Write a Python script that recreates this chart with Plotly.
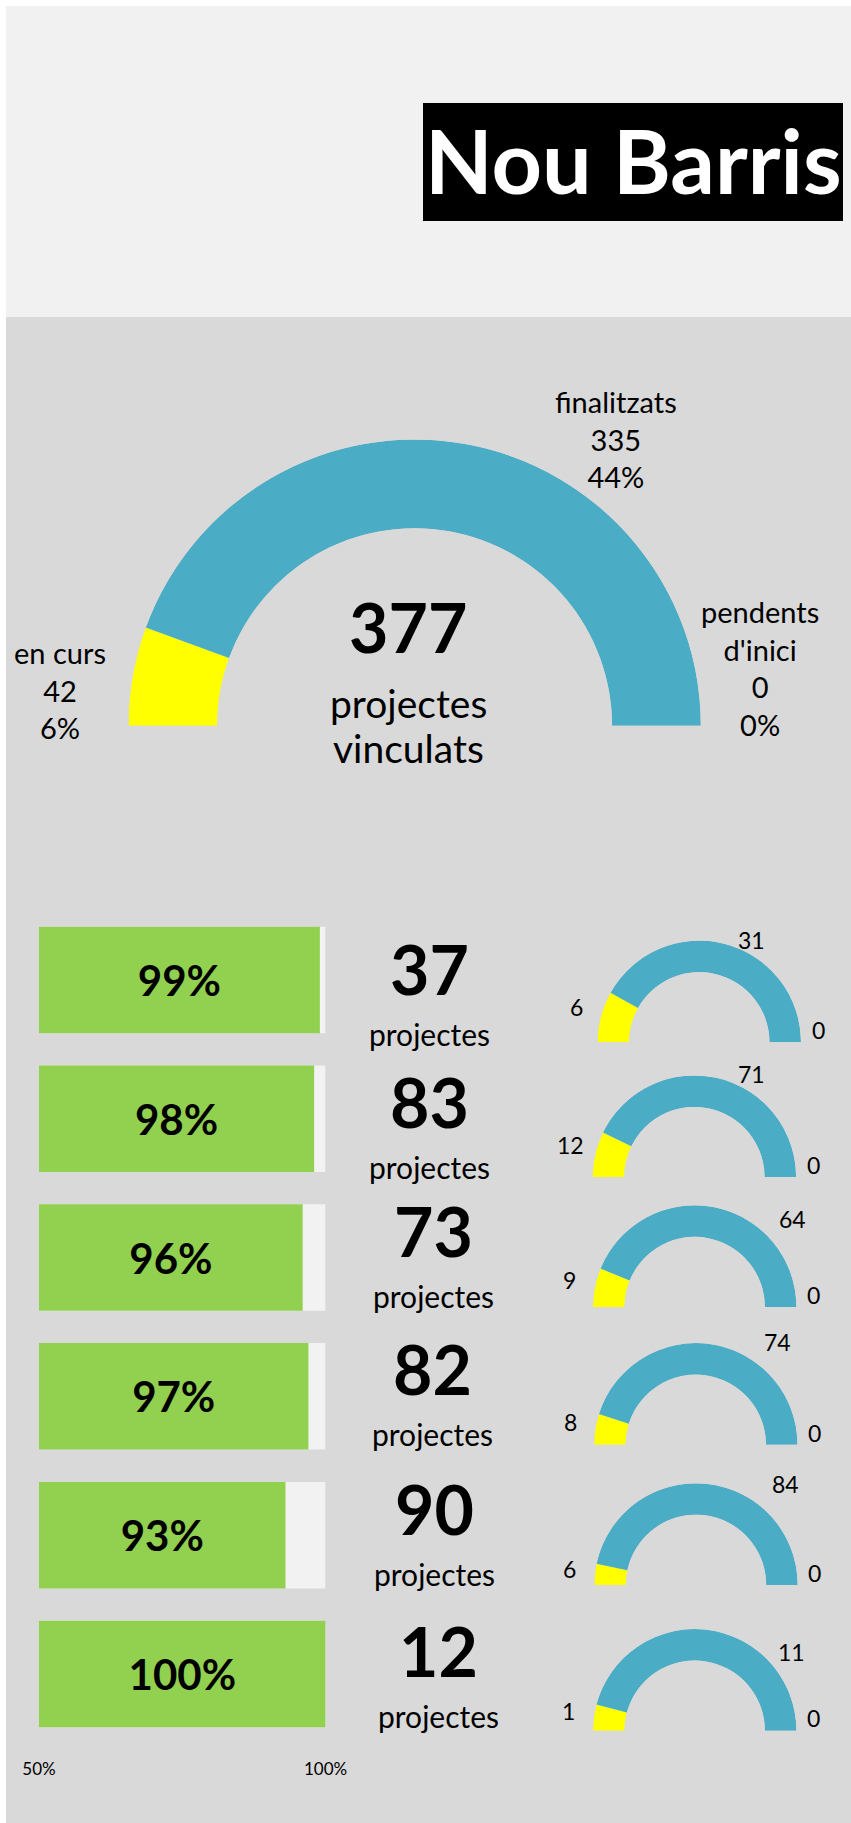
import math
import plotly.graph_objects as go

W, H = 851, 1823

# ---- data -------------------------------------------------------------
district = "Nou Barris"

status_labels = ["en curs", "finalitzats", "pendents<br>d'inici"]
status_totals = [42, 335, 0]

row_rates = [99, 98, 96, 97, 93, 100]          # % shown on each green bar
row_en_curs = [6, 12, 9, 8, 6, 1]
row_finalitzats = [31, 71, 64, 74, 84, 11]
row_pendents = [0, 0, 0, 0, 0, 0]

scale_ticks = [50, 100]

# ---- styling / layout -------------------------------------------------
YELLOW, BLUE, GREY = "#ffff00", "#4bacc6", "#a5a5a5"
GREEN, TRACK = "#92d050", "#f2f2f2"
TOP_BG, MAIN_BG = "#f1f1f1", "#d9d9d9"
FONT = "Lato"
STATUS_COLORS = [YELLOW, BLUE, GREY]
HOLE = 0.69

BAR_TOP0, ROW_PITCH, BAR_H = 926.7, 138.8, 106.5
BAR_X0, BAR_X1 = 39.0, 325.6

BIG_CX, BIG_BASE, BIG_R = 414.6, 725.7, 286.2
SMALL_R = 101.7
gauge_cx = [699.3, 694.4, 694.7, 695.8, 696.0, 694.7]
gauge_base_dy = [115.6, 111.6, 102.7, 101.7, 103.0, 110.0]
count_cx = [429.6, 430.0, 433.0, 432.0, 435.0, 438.0]
count_dy = [41.6, 36.0, 26.0, 25.0, 27.0, 30.0]
blue_label_pos = [(0.51, -1.01), (0.56, -1.01), (0.96, -0.87),
                  (0.80, -1.01), (0.88, -0.99), (0.95, -0.77)]
big_label_pos = [(-1.24, -0.125), (0.704, -1.0), (1.208, -0.203)]


def px(x):
    return x / W


def py(y):
    return 1 - y / H


fig = go.Figure()
annotations = []
shapes = [
    dict(type="rect", xref="paper", yref="paper", x0=px(6), x1=1, y0=py(317), y1=py(6),
         fillcolor=TOP_BG, line=dict(width=0), layer="below"),
    dict(type="rect", xref="paper", yref="paper", x0=px(6), x1=1, y0=0, y1=py(317),
         fillcolor=MAIN_BG, line=dict(width=0), layer="below"),
    dict(type="rect", xref="paper", yref="paper", x0=px(423), x1=px(843), y0=py(221), y1=py(103),
         fillcolor="black", line=dict(width=0), layer="below"),
]


def text(x, y, s, size, bold=False, color="black"):
    annotations.append(dict(
        x=px(x), y=py(y), xref="paper", yref="paper", text=s, showarrow=False,
        xanchor="center", yanchor="middle", align="center",
        font=dict(family=FONT, size=size, color=color, weight="bold" if bold else "normal"),
    ))


def add_gauge(idx, cx, base_y, R, values):
    """Half-doughnut: the values fill the upper half of a ring."""
    name = "polar" if idx == 1 else f"polar{idx}"
    fig.update_layout({name: dict(
        domain=dict(x=[px(cx - R), px(cx + R)], y=[py(base_y), py(base_y - R)]),
        sector=[0, 180], hole=HOLE, bgcolor="rgba(0,0,0,0)", barmode="overlay",
        radialaxis=dict(visible=False, range=[0, 1], showgrid=False, showline=False),
        angularaxis=dict(visible=False, rotation=180, direction="clockwise",
                         thetaunit="degrees", showgrid=False, showline=False, ticks=""),
    )})
    total = sum(values)
    start = 0.0
    for v, c in zip(values, STATUS_COLORS):
        span = 180.0 * v / total
        if v > 0:
            fig.add_trace(go.Barpolar(
                r=[1], theta=[start + span / 2], width=[span], subplot=name,
                marker=dict(color=c, line=dict(width=0)), showlegend=False, hoverinfo="skip",
            ))
        start += span
    return total


# ---- title ------------------------------------------------------------
text(633, 160, district, 88, bold=True, color="white")

# ---- overall gauge ----------------------------------------------------
grand_total = add_gauge(1, BIG_CX, BIG_BASE, BIG_R, status_totals)
for (dx, dy), lab, v in zip(big_label_pos, status_labels, status_totals):
    pct = round(100 * v / (2 * grand_total))
    text(BIG_CX + dx * BIG_R, BIG_BASE + dy * BIG_R, f"{lab}<br>{v}<br>{pct}%", 29)
text(408, 626, str(grand_total), 68, bold=True)
text(408, 703, "projectes", 39)
text(408, 748, "vinculats", 39)

# ---- per-row bars -----------------------------------------------------
rows = list(range(len(row_rates)))
bar_w = BAR_H / ROW_PITCH
fig.add_trace(go.Bar(
    y=rows, x=[scale_ticks[1] - scale_ticks[0]] * len(rows), base=scale_ticks[0],
    orientation="h", width=bar_w, marker=dict(color=TRACK, line=dict(width=0)),
    showlegend=False, hoverinfo="skip",
))
fig.add_trace(go.Bar(
    y=rows, x=[r - scale_ticks[0] for r in row_rates], base=scale_ticks[0],
    orientation="h", width=bar_w, marker=dict(color=GREEN, line=dict(width=0)),
    text=[f"{r}%" for r in row_rates], textposition="inside", insidetextanchor="middle",
    textangle=0, textfont=dict(family=FONT, size=42, color="black", weight="bold"),
    showlegend=False, hoverinfo="skip",
))

# ---- per-row counts and small gauges ----------------------------------
for i in rows:
    top = BAR_TOP0 + i * ROW_PITCH
    vals = [row_en_curs[i], row_finalitzats[i], row_pendents[i]]
    cx, base = gauge_cx[i], top + gauge_base_dy[i]
    total = add_gauge(i + 2, cx, base, SMALL_R, vals)

    text(count_cx[i], top + count_dy[i], str(total), 68, bold=True)
    text(count_cx[i], top + count_dy[i] + 65.5, "projectes", 30)

    a = math.radians(90.0 * vals[0] / total)
    text(cx - 1.25 * SMALL_R * math.cos(a), base - 1.25 * SMALL_R * math.sin(a) - 3,
         str(vals[0]), 23)
    bx, by = blue_label_pos[i]
    text(cx + bx * SMALL_R, base + by * SMALL_R, str(vals[1]), 23)
    text(cx + 1.17 * SMALL_R, base - 0.12 * SMALL_R, str(vals[2]), 23)

y_top = BAR_TOP0 - (ROW_PITCH - BAR_H) / 2
y_bot = y_top + len(rows) * ROW_PITCH

fig.update_layout(
    width=W, height=H, margin=dict(l=0, r=0, t=0, b=0, pad=0, autoexpand=False),
    paper_bgcolor="white", plot_bgcolor="rgba(0,0,0,0)",
    barmode="overlay", showlegend=False,
    xaxis=dict(domain=[px(BAR_X0), px(BAR_X1)], range=scale_ticks, tickmode="array",
               tickvals=scale_ticks, ticktext=[f"{t}%" for t in scale_ticks],
               showgrid=False, zeroline=False, showline=False, ticks="",
               ticklabelstandoff=14, tickfont=dict(family=FONT, size=17, color="black"),
               fixedrange=True),
    yaxis=dict(domain=[py(y_bot), py(y_top)], range=[len(rows) - 0.5, -0.5],
               visible=False, fixedrange=True),
    shapes=shapes, annotations=annotations,
)

fig.write_html("out.html")
